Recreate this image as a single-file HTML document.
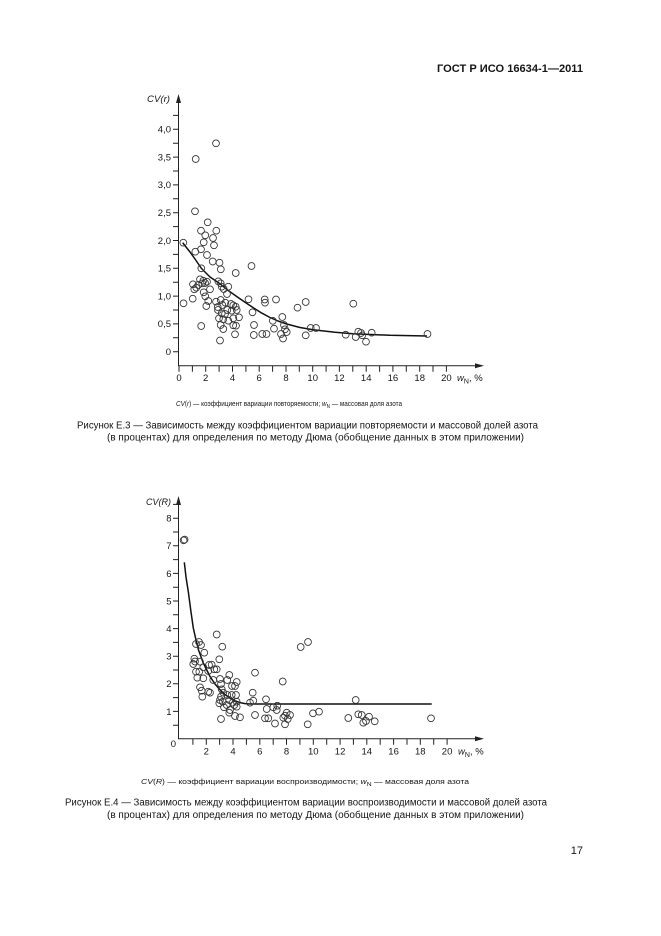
<!DOCTYPE html>
<html><head><meta charset="utf-8"><style>
html,body{margin:0;padding:0;background:#fff;}
svg{display:block;}
text{font-family:"Liberation Sans","DejaVu Sans",sans-serif;fill:#151515;}
</style></head><body>
<svg width="661" height="936" viewBox="0 0 661 936" xmlns="http://www.w3.org/2000/svg">
<rect width="661" height="936" fill="#fff"/>
<text x="437" y="72" font-size="11" font-weight="bold" textLength="146" lengthAdjust="spacingAndGlyphs">ГОСТ Р ИСО 16634-1—2011</text>

<!-- ===== TOP CHART ===== -->
<g stroke="#222" stroke-width="1" fill="none">
<path d="M178.5,100V365.7H479"/>
<path d="M179,365.7v6M192.4,365.7v6M205.7,365.7v6M219.1,365.7v6M232.5,365.7v6M245.9,365.7v6M259.2,365.7v6M272.6,365.7v6M286,365.7v6M299.3,365.7v6M312.7,365.7v6M326.1,365.7v6M339.4,365.7v6M352.8,365.7v6M366.2,365.7v6M379.6,365.7v6M392.9,365.7v6M406.3,365.7v6M419.7,365.7v6M433,365.7v6M446.4,365.7v6"/>
<path d="M173,351.7h5.5M173,337.8h5.5M173,323.9h5.5M173,310h5.5M173,296.1h5.5M173,282.2h5.5M173,268.3h5.5M173,254.4h5.5M173,240.5h5.5M173,226.6h5.5M173,212.7h5.5M173,198.8h5.5M173,184.9h5.5M173,171h5.5M173,157.1h5.5M173,143.2h5.5M173,129.3h5.5M173,115.4h5.5"/>
</g>
<path d="M178.5,94L176,103H181Z" fill="#222"/>
<path d="M484,365.7L475,363.2V368.2Z" fill="#222"/>
<g font-size="9.5" text-anchor="end">
<text x="171" y="355">0</text><text x="171" y="327.2">0,5</text><text x="171" y="299.4">1,0</text><text x="171" y="271.6">1,5</text><text x="171" y="243.8">2,0</text><text x="171" y="216">2,5</text><text x="171" y="188.2">3,0</text><text x="171" y="160.4">3,5</text><text x="171" y="132.6">4,0</text>
</g>
<g font-size="9.5" text-anchor="middle">
<text x="179" y="381">0</text><text x="205.7" y="381">2</text><text x="232.5" y="381">4</text><text x="259.2" y="381">6</text><text x="286" y="381">8</text><text x="312.7" y="381">10</text><text x="339.4" y="381">12</text><text x="366.2" y="381">14</text><text x="392.9" y="381">16</text><text x="419.7" y="381">18</text><text x="446.4" y="381">20</text>
</g>
<text x="457" y="381" font-size="9.5"><tspan font-style="italic">w</tspan><tspan font-size="7" dy="2.5">N</tspan><tspan dy="-2.5">, %</tspan></text>
<text x="147" y="102" font-size="9.5" font-style="italic" textLength="23" lengthAdjust="spacingAndGlyphs">CV(r)</text>

<polyline fill="none" stroke="#111" stroke-width="1.5" stroke-linejoin="round" points="182.7,242.7 186,247 190,252 195,259 201.5,268.5 210,277 220,283.8 228,290.3 236.7,296.5 245,302.3 253.3,307.8 262,313.2 270,317.5 278,321 286.7,324 300,327.5 313,329.8 335,332.3 353,333.7 390,335.3 427,336"/>

<g fill="none" stroke="#333" stroke-width="0.85">
<circle cx="216" cy="143.3" r="3.4"/><circle cx="195.7" cy="159" r="3.4"/><circle cx="195" cy="211.3" r="3.4"/><circle cx="207.7" cy="222.3" r="3.4"/><circle cx="201" cy="230.7" r="3.4"/><circle cx="216.3" cy="230.7" r="3.4"/><circle cx="205.3" cy="235.3" r="3.4"/><circle cx="213" cy="238" r="3.4"/><circle cx="203.7" cy="242.3" r="3.4"/><circle cx="214" cy="245.3" r="3.4"/><circle cx="183.3" cy="242.7" r="3.4"/><circle cx="195.3" cy="251.7" r="3.4"/><circle cx="201" cy="249.3" r="3.4"/><circle cx="207" cy="255" r="3.4"/><circle cx="212.7" cy="261.5" r="3.4"/><circle cx="219.5" cy="262.7" r="3.4"/><circle cx="220.8" cy="269.3" r="3.4"/><circle cx="235.7" cy="273" r="3.4"/><circle cx="251.5" cy="266" r="3.4"/><circle cx="201.3" cy="268.3" r="3.4"/>
<circle cx="200" cy="279.3" r="3.4"/><circle cx="193" cy="284.3" r="3.4"/><circle cx="194.3" cy="289.3" r="3.4"/><circle cx="196.3" cy="287.7" r="3.4"/><circle cx="198.3" cy="285" r="3.4"/><circle cx="203.3" cy="280.7" r="3.4"/><circle cx="202.3" cy="283.3" r="3.4"/><circle cx="205" cy="283" r="3.4"/><circle cx="207" cy="281.7" r="3.4"/><circle cx="210" cy="289.3" r="3.4"/><circle cx="203.7" cy="292.3" r="3.4"/><circle cx="205.3" cy="296.3" r="3.4"/><circle cx="218.3" cy="281.3" r="3.4"/><circle cx="220.7" cy="283.3" r="3.4"/><circle cx="221.7" cy="286.7" r="3.4"/><circle cx="228.3" cy="286.7" r="3.4"/><circle cx="223.7" cy="289" r="3.4"/><circle cx="227" cy="294" r="3.4"/>
<circle cx="183.5" cy="303.3" r="3.4"/><circle cx="192.7" cy="298.7" r="3.4"/><circle cx="208.3" cy="301" r="3.4"/><circle cx="206.3" cy="306" r="3.4"/><circle cx="216" cy="301.7" r="3.4"/><circle cx="217.7" cy="307" r="3.4"/><circle cx="220.7" cy="300" r="3.4"/><circle cx="222.3" cy="305" r="3.4"/><circle cx="225.3" cy="302.7" r="3.4"/><circle cx="231" cy="304" r="3.4"/><circle cx="233.3" cy="305.3" r="3.4"/><circle cx="235.7" cy="306.7" r="3.4"/><circle cx="248.5" cy="299.3" r="3.4"/><circle cx="264.7" cy="299.5" r="3.4"/><circle cx="265" cy="302.7" r="3.4"/><circle cx="276" cy="299.5" r="3.4"/><circle cx="297.5" cy="307.7" r="3.4"/><circle cx="305.7" cy="302" r="3.4"/>
<circle cx="218" cy="310" r="3.4"/><circle cx="221.7" cy="313.3" r="3.4"/><circle cx="225" cy="314" r="3.4"/><circle cx="227.3" cy="310" r="3.4"/><circle cx="231.7" cy="310.7" r="3.4"/><circle cx="236.7" cy="310" r="3.4"/><circle cx="219" cy="318.3" r="3.4"/><circle cx="223.3" cy="319.3" r="3.4"/><circle cx="228.3" cy="320.7" r="3.4"/><circle cx="233.3" cy="318.3" r="3.4"/><circle cx="239" cy="317.3" r="3.4"/><circle cx="252.5" cy="312.3" r="3.4"/><circle cx="220.7" cy="325" r="3.4"/><circle cx="223.3" cy="329" r="3.4"/><circle cx="233.3" cy="325.3" r="3.4"/><circle cx="236" cy="325.7" r="3.4"/><circle cx="201.2" cy="326" r="3.4"/><circle cx="235" cy="334.3" r="3.4"/><circle cx="220" cy="340.5" r="3.4"/>
<circle cx="254" cy="325" r="3.4"/><circle cx="253.8" cy="335" r="3.4"/><circle cx="262.3" cy="334" r="3.4"/><circle cx="266.5" cy="334" r="3.4"/><circle cx="272.8" cy="320.8" r="3.4"/><circle cx="274" cy="328.7" r="3.4"/><circle cx="282.3" cy="317" r="3.4"/><circle cx="284" cy="325" r="3.4"/><circle cx="285" cy="329.3" r="3.4"/><circle cx="286.7" cy="332" r="3.4"/><circle cx="281" cy="334" r="3.4"/><circle cx="283" cy="338.5" r="3.4"/><circle cx="310.7" cy="328" r="3.4"/><circle cx="316" cy="328" r="3.4"/><circle cx="305.7" cy="335.3" r="3.4"/>
<circle cx="353.3" cy="303.7" r="3.4"/><circle cx="345.7" cy="334.7" r="3.4"/><circle cx="355.7" cy="337" r="3.4"/><circle cx="358.3" cy="331.7" r="3.4"/><circle cx="361" cy="333" r="3.4"/><circle cx="362.3" cy="335.3" r="3.4"/><circle cx="366" cy="341.7" r="3.4"/><circle cx="371.7" cy="332.7" r="3.4"/><circle cx="427.5" cy="334" r="3.4"/>
</g>

<text x="176" y="406" font-size="7" textLength="226" lengthAdjust="spacingAndGlyphs"><tspan font-style="italic">CV</tspan>(<tspan font-style="italic">r</tspan>) — коэффициент вариации повторяемости; <tspan font-style="italic">w</tspan><tspan font-size="5" dy="2">N</tspan><tspan dy="-2"> — массовая доля азота</tspan></text>
<text x="77" y="428.5" font-size="10" textLength="461" lengthAdjust="spacingAndGlyphs">Рисунок Е.3 — Зависимость между коэффициентом вариации повторяемости и массовой долей азота</text>
<text x="107" y="440.5" font-size="10" textLength="417" lengthAdjust="spacingAndGlyphs">(в процентах) для определения по методу Дюма (обобщение данных в этом приложении)</text>

<!-- ===== BOTTOM CHART ===== -->
<g stroke="#222" stroke-width="1" fill="none">
<path d="M178.5,502V738.8H479"/>
<path d="M192.9,738.8v6M206.3,738.8v6M219.6,738.8v6M233,738.8v6M246.4,738.8v6M259.8,738.8v6M273.2,738.8v6M286.5,738.8v6M299.9,738.8v6M313.3,738.8v6M326.7,738.8v6M340.1,738.8v6M353.4,738.8v6M366.8,738.8v6M380.2,738.8v6M393.6,738.8v6M407,738.8v6M420.3,738.8v6M433.7,738.8v6M447.1,738.8v6"/>
<path d="M173,725.2h5.5M173,711.4h5.5M173,697.6h5.5M173,683.8h5.5M173,670h5.5M173,656.2h5.5M173,642.4h5.5M173,628.6h5.5M173,614.8h5.5M173,601h5.5M173,587.2h5.5M173,573.4h5.5M173,559.6h5.5M173,545.8h5.5M173,532h5.5M173,518.2h5.5M173,504.4h5.5"/>
</g>
<path d="M178.5,496L176,505H181Z" fill="#222"/>
<path d="M484,738.8L475,736.3V741.3Z" fill="#222"/>
<g font-size="9.5" text-anchor="end">
<text x="171.5" y="714.8">1</text><text x="171.5" y="687.2">2</text><text x="171.5" y="659.6">3</text><text x="171.5" y="632">4</text><text x="171.5" y="604.4">5</text><text x="171.5" y="576.8">6</text><text x="171.5" y="549.2">7</text><text x="171.5" y="521.6">8</text>
<text x="176" y="747">0</text>
</g>
<g font-size="9.5" text-anchor="middle">
<text x="206.3" y="754.5">2</text><text x="233" y="754.5">4</text><text x="259.8" y="754.5">6</text><text x="286.5" y="754.5">8</text><text x="313.3" y="754.5">10</text><text x="340.1" y="754.5">12</text><text x="366.8" y="754.5">14</text><text x="393.6" y="754.5">16</text><text x="420.3" y="754.5">18</text><text x="447.1" y="754.5">20</text>
</g>
<text x="458" y="754.5" font-size="9.5"><tspan font-style="italic">w</tspan><tspan font-size="7" dy="2.5">N</tspan><tspan dy="-2.5">, %</tspan></text>
<text x="146" y="505" font-size="9.5" font-style="italic" textLength="25" lengthAdjust="spacingAndGlyphs">CV(R)</text>

<polyline fill="none" stroke="#111" stroke-width="1.5" stroke-linejoin="round" points="184.3,562.3 186,577 188.3,591.7 191,612 193.3,628 196,640 198.5,650 203.3,663 210,676.5 215,684 220,689.8 225,694.5 230,698.2 235,700.8 240,702.6 245,703.6 250,704 431.7,704"/>

<g fill="none" stroke="#333" stroke-width="0.85">
<circle cx="183.6" cy="540.3" r="3.4"/><circle cx="184.6" cy="539.6" r="3.4"/>
<circle cx="216.7" cy="634.5" r="3.4"/><circle cx="222.3" cy="646.7" r="3.4"/><circle cx="196" cy="644" r="3.4"/><circle cx="201" cy="645" r="3.4"/><circle cx="199" cy="642" r="3.4"/><circle cx="204.3" cy="652.7" r="3.4"/><circle cx="194.3" cy="658.7" r="3.4"/><circle cx="195" cy="661.5" r="3.4"/><circle cx="200" cy="661.7" r="3.4"/><circle cx="219.3" cy="659.3" r="3.4"/><circle cx="193.3" cy="664" r="3.4"/><circle cx="203.3" cy="667.3" r="3.4"/><circle cx="209" cy="665" r="3.4"/><circle cx="211.7" cy="664.7" r="3.4"/><circle cx="214.3" cy="669.3" r="3.4"/><circle cx="216.7" cy="669.3" r="3.4"/><circle cx="208.3" cy="671" r="3.4"/><circle cx="199.3" cy="671.7" r="3.4"/><circle cx="196" cy="671.7" r="3.4"/>
<circle cx="197.3" cy="677.7" r="3.4"/><circle cx="203.3" cy="678.3" r="3.4"/><circle cx="213.3" cy="680" r="3.4"/><circle cx="220" cy="679" r="3.4"/><circle cx="227.3" cy="680" r="3.4"/><circle cx="229.3" cy="675" r="3.4"/><circle cx="236.7" cy="682" r="3.4"/><circle cx="255" cy="672.7" r="3.4"/><circle cx="282.7" cy="681.5" r="3.4"/><circle cx="200" cy="687.3" r="3.4"/><circle cx="201.7" cy="690.7" r="3.4"/><circle cx="208.3" cy="691.7" r="3.4"/><circle cx="210" cy="692.7" r="3.4"/><circle cx="202.3" cy="696.7" r="3.4"/><circle cx="221" cy="684" r="3.4"/><circle cx="221.7" cy="689.3" r="3.4"/><circle cx="232" cy="686" r="3.4"/><circle cx="235" cy="686" r="3.4"/><circle cx="223.3" cy="692.7" r="3.4"/><circle cx="221" cy="696.7" r="3.4"/><circle cx="227.3" cy="695" r="3.4"/><circle cx="231.7" cy="695" r="3.4"/><circle cx="236" cy="695" r="3.4"/>
<circle cx="220" cy="700" r="3.4"/><circle cx="222.7" cy="701.7" r="3.4"/><circle cx="229.3" cy="700" r="3.4"/><circle cx="232.7" cy="702.7" r="3.4"/><circle cx="236.7" cy="701.7" r="3.4"/><circle cx="219.3" cy="703.3" r="3.4"/><circle cx="226.7" cy="705" r="3.4"/><circle cx="234.3" cy="705" r="3.4"/><circle cx="224" cy="707.3" r="3.4"/><circle cx="230" cy="710" r="3.4"/><circle cx="236.7" cy="706.7" r="3.4"/><circle cx="252.7" cy="692.7" r="3.4"/><circle cx="253.3" cy="700.7" r="3.4"/><circle cx="250" cy="702.7" r="3.4"/><circle cx="266" cy="699.3" r="3.4"/><circle cx="266.7" cy="709" r="3.4"/><circle cx="255" cy="715" r="3.4"/><circle cx="229.3" cy="712.7" r="3.4"/><circle cx="235" cy="716" r="3.4"/><circle cx="240" cy="717.3" r="3.4"/><circle cx="221" cy="719" r="3.4"/><circle cx="265" cy="718.3" r="3.4"/><circle cx="268.3" cy="718.3" r="3.4"/><circle cx="275" cy="723.5" r="3.4"/>
<circle cx="273.3" cy="707.3" r="3.4"/><circle cx="277.3" cy="705.7" r="3.4"/><circle cx="276.7" cy="710" r="3.4"/><circle cx="286.7" cy="712.7" r="3.4"/><circle cx="290" cy="715" r="3.4"/><circle cx="285" cy="715.7" r="3.4"/><circle cx="283.3" cy="717.7" r="3.4"/><circle cx="287.7" cy="719" r="3.4"/><circle cx="285" cy="724.3" r="3.4"/><circle cx="300.7" cy="647" r="3.4"/><circle cx="308" cy="642" r="3.4"/><circle cx="313" cy="713.3" r="3.4"/><circle cx="319" cy="711.7" r="3.4"/><circle cx="307.7" cy="724.3" r="3.4"/><circle cx="355.7" cy="700" r="3.4"/><circle cx="348.3" cy="718" r="3.4"/><circle cx="358.3" cy="714.3" r="3.4"/><circle cx="361.7" cy="715" r="3.4"/><circle cx="369" cy="716.7" r="3.4"/><circle cx="363.3" cy="722.7" r="3.4"/><circle cx="366" cy="721" r="3.4"/><circle cx="374.7" cy="721.3" r="3.4"/><circle cx="431" cy="718.3" r="3.4"/>
</g>

<text x="141" y="784" font-size="7" textLength="328" lengthAdjust="spacingAndGlyphs"><tspan font-style="italic">CV</tspan>(<tspan font-style="italic">R</tspan>) —  коэффициент вариации воспроизводимости; <tspan font-style="italic">w</tspan><tspan font-size="5.5" dy="2">N</tspan><tspan dy="-2">  —  массовая доля азота</tspan></text>
<text x="65" y="805.5" font-size="10" textLength="482" lengthAdjust="spacingAndGlyphs">Рисунок Е.4  — Зависимость между коэффициентом вариации воспроизводимости и массовой долей азота</text>
<text x="107" y="818" font-size="10" textLength="417" lengthAdjust="spacingAndGlyphs">(в процентах) для определения по методу Дюма (обобщение данных в этом приложении)</text>

<text x="583" y="854" font-size="11" text-anchor="end">17</text>
</svg>
</body></html>
